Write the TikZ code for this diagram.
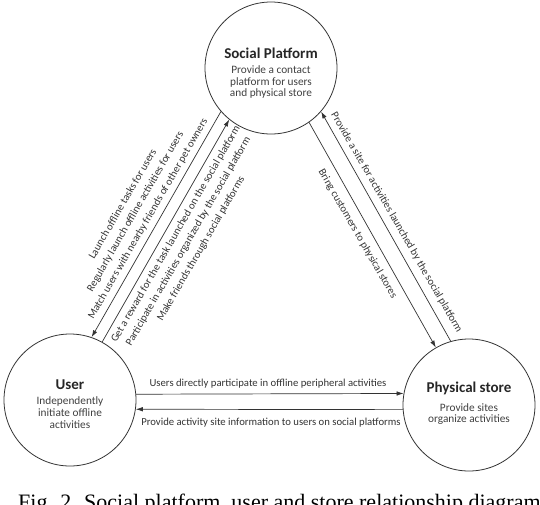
\documentclass[tikz,border=0pt]{standalone}
\usepackage{fontspec}
\setmainfont{Carlito}
\newfontfamily\capfont{Liberation Serif}
\usetikzlibrary{arrows.meta}
\begin{document}
\begin{tikzpicture}[x=1pt,y=-1pt,
 ent/.style={circle,draw=black!80,line width=0.8pt,minimum size=132pt,inner sep=0pt},
 ttl/.style={font=\fontsize{15}{17}\selectfont\bfseries,text=black!85,inner sep=0pt},
 sub/.style={font=\fontsize{11.3}{11.8}\selectfont,text=black!75,align=center,inner sep=0pt},
 lbl/.style={font=\fontsize{10.7}{14.5}\selectfont,text=black!80,align=center,inner sep=0pt},
 conn/.style={draw=black!80,line width=0.7pt,-{Latex[length=7pt,width=4.5pt]}}]
\useasboundingbox (0,0) rectangle (540,504);
\node[ent] (sp) at (271,68) {};
\node[ent] (us) at (70,400) {};
\node[ent] (ps) at (469,405) {};
% titles and texts
\node[ttl] (spt) at (271,53) {Social Platform};
\node[sub] (sps) at (271,82) {Provide a contact\\platform for users\\and physical store};
\node[ttl] (ust) at (70,385) {User};
\node[sub] (uss) at (70,412.5) {Independently\\initiate offline\\activities};
\node[ttl] (pst) at (469,388) {Physical store};
\node[sub] (pss) at (469,414) {Provide sites\\organize activities};
% connectors
\draw[conn] (sp.221) -- (us.71);
\draw[conn] (us.61) -- (sp.231);
\draw[conn] (sp.305) -- (ps.120);
\draw[conn] (ps.106) -- (sp.319);
\draw[conn] (us.5) -- (ps.170);
\draw[conn] (ps.184) -- (us.352);
% edge labels
\node[lbl,rotate=60] (l1) at (135.5,211.5) {Launch offline tasks for users\\Regularly launch offline activities for users\\Match users with nearby friends of other pet owners};
\node[lbl,rotate=60] (l2) at (188.5,241.5) {Get a reward for the task launched on the social platform\\Participate in activities organized by the social platform\\Make friends through social platforms};
\node[lbl,rotate=-60] (l3) at (357.5,234) {Bring customers to physical stores};
\node[lbl,rotate=-60] (l4) at (396.5,222.5) {Provide a site for activities launched by the social platform};
\node[lbl] (l5) at (268,384) {Users directly participate in offline peripheral activities};
\node[lbl] (l6) at (271,423) {Provide activity site information to users on social platforms};
% caption
\node[font=\capfont\fontsize{22}{24}\selectfont,anchor=base west,inner sep=0pt] (cap) at (18,509.5) {Fig. 2. Social platform, user and store relationship diagram};
\end{tikzpicture}
\end{document}
